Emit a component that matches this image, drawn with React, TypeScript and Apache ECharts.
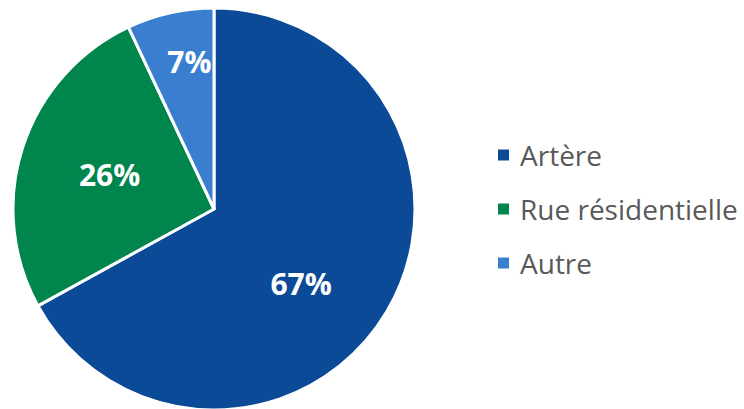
import React, { useEffect, useRef } from "react";
import * as echarts from "echarts";

const categories = ["Artère", "Rue résidentielle", "Autre"];
const values = [67, 26, 7];
const colors = ["#0A4A97", "#00854D", "#3A7ECF"];
const labelOffsets = [[-2, 22], [-6, -3], [-2, -46]];

export default function App() {
  const ref = useRef<HTMLDivElement>(null);
  useEffect(() => {
    const chart = echarts.init(ref.current!, undefined, { renderer: "svg" });
    chart.setOption({
      animation: false,
      legend: {
        orient: "vertical",
        left: 496,
        top: 141,
        padding: 0,
        itemWidth: 13,
        itemHeight: 13,
        itemGap: 26,
        icon: "rect",
        textStyle: {
          fontSize: 28,
          lineHeight: 28,
          color: "#595959",
          fontFamily: "Open Sans",
          padding: [0, 0, 0, 5],
        },
        data: categories,
      },
      series: [
        {
          type: "pie",
          center: [214, 209],
          radius: 201,
          startAngle: 90,
          clockwise: true,
          itemStyle: { borderColor: "#fff", borderWidth: 3 },
          label: {
            show: true,
            position: "inside",
            formatter: "{c}%",
            color: "#fff",
            fontSize: 30,
            fontWeight: "bold",
            fontFamily: "Open Sans",
          },
          labelLine: { show: false },
          emphasis: { disabled: true },
          data: categories.map((n, i) => ({
            name: n,
            value: values[i],
            itemStyle: { color: colors[i] },
            label: { offset: labelOffsets[i] },
          })),
        },
      ],
    });
    return () => chart.dispose();
  }, []);
  return <div ref={ref} style={{ width: 744, height: 409, position: "absolute", left: 0, top: 0 }} />;
}
